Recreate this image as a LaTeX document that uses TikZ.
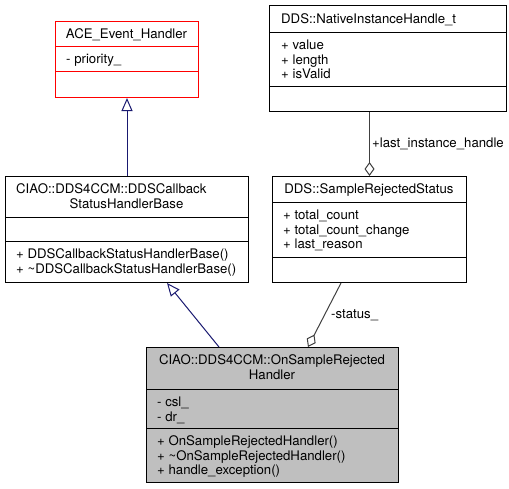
\documentclass[tikz,border=0pt]{standalone}
\usepackage{fontspec}
\setmainfont{TeX Gyre Heros}
\usetikzlibrary{arrows.meta}
\definecolor{inhblue}{HTML}{191970}
\definecolor{agggrey}{HTML}{404040}
\definecolor{boxgrey}{HTML}{BFBFBF}
\tikzset{
  umlbox/.style={draw=black, line width=1pt, rectangle, inner sep=0pt, anchor=north west},
  divider/.style={draw=black, line width=1pt},
  item/.style={inner sep=0pt, anchor=west, text height=9.5pt, text depth=0pt, font=\fontsize{13.2}{14.5}\selectfont},
  ctitle/.style={item, anchor=center},
  inh/.style={draw=inhblue, line width=1pt, -{Triangle[open, length=13pt, width=11pt]}},
  agg/.style={draw=agggrey, line width=1pt, {Diamond[open, length=14pt, width=10pt]}-},
}
\begin{document}
\begin{tikzpicture}[x=1pt, y=-1pt]
\useasboundingbox (0,0) rectangle (509,488);
% ACE_Event_Handler
\node[umlbox, draw=red, minimum width=143pt, minimum height=76pt] (ace) at (55,21) {};
\draw[divider, draw=red] (55,46) -- (198,46);
\draw[divider, draw=red] (55,71) -- (198,71);
\node[ctitle] (acet) at (126.5,33.75) {ACE\_Event\_Handler};
\node[item] (acea1) at (66,58.75) {- priority\_};
% DDS::NativeInstanceHandle_t
\node[umlbox, minimum width=237pt, minimum height=106pt] (native) at (269,5) {};
\draw[divider] (269,32) -- (506,32);
\draw[divider] (269,86) -- (506,86);
\node[item] (nativet) at (281,18.5) {DDS::NativeInstanceHandle\_t};
\node[item] (nativea1) at (281,44.75) {+ value};
\node[item] (nativea2) at (281,59.25) {+ length};
\node[item] (nativea3) at (281,73.75) {+ isValid};
% CIAO::DDS4CCM::DDSCallbackStatusHandlerBase
\node[umlbox, minimum width=243pt, minimum height=106pt] (base) at (5,176) {};
\draw[divider] (5,217) -- (248,217);
\draw[divider] (5,241) -- (248,241);
\node[item] (baset1) at (16,188.75) {CIAO::DDS4CCM::DDSCallback};
\node[ctitle] (baset2) at (126.5,203.25) {StatusHandlerBase};
\node[item] (basem1) at (16,253.75) {+ DDSCallbackStatusHandlerBase()};
\node[item] (basem2) at (16,268.25) {+ \textasciitilde DDSCallbackStatusHandlerBase()};
% DDS::SampleRejectedStatus
\node[umlbox, minimum width=194pt, minimum height=106pt] (srs) at (272,176) {};
\draw[divider] (272,202) -- (466,202);
\draw[divider] (272,257) -- (466,257);
\node[ctitle] (srst) at (369,189) {DDS::SampleRejectedStatus};
\node[item] (srsa1) at (283,214.75) {+ total\_count};
\node[item] (srsa2) at (283,229.25) {+ total\_count\_change};
\node[item] (srsa3) at (283,243.75) {+ last\_reason};
% CIAO::DDS4CCM::OnSampleRejectedHandler
\node[umlbox, fill=boxgrey, minimum width=252pt, minimum height=135pt] (bot) at (146,347) {};
\draw[divider] (146,389) -- (398,389);
\draw[divider] (146,428) -- (398,428);
\node[ctitle] (bott1) at (272,359.75) {CIAO::DDS4CCM::OnSampleRejected};
\node[ctitle] (bott2) at (272,374.25) {Handler};
\node[item] (bota1) at (157,401.75) {- csl\_};
\node[item] (bota2) at (157,416.25) {- dr\_};
\node[item] (botm1) at (157,440.75) {+ OnSampleRejectedHandler()};
\node[item] (botm2) at (157,455.25) {+ \textasciitilde OnSampleRejectedHandler()};
\node[item] (botm3) at (157,469.75) {+ handle\_exception()};
% connectors
\draw[inh] (base.north) -- (ace.south);
\draw[inh] ([xshift=73pt]bot.north west) -- ([xshift=162pt]base.south west);
\draw[agg] (srs.north) -- (srs.north |- native.south);
\draw[agg] ([xshift=162pt]bot.north west) -- ([xshift=69pt]srs.south west);
\node[item] (lbl1) at (372,143) {+last\_instance\_handle};
\node[item] (lbl2) at (331,314) {-status\_};
\end{tikzpicture}
\end{document}
